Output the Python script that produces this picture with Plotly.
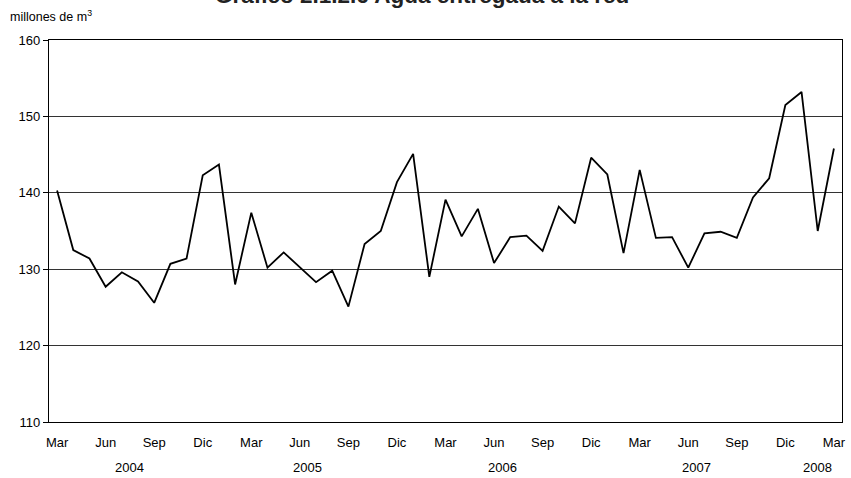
import plotly.graph_objects as go

month_names = ["Mar", "Abr", "May", "Jun", "Jul", "Ago", "Sep", "Oct", "Nov", "Dic", "Ene", "Feb"]
years = [2004] * 10 + [2005] * 12 + [2006] * 12 + [2007] * 12 + [2008] * 3
months = [month_names[i % 12] for i in range(49)]
values = [
    140.3, 132.5, 131.4, 127.7, 129.6, 128.4, 125.6, 130.7, 131.4, 142.3,
    143.7, 128.0, 137.4, 130.2, 132.2, 130.2, 128.3, 129.8, 125.1, 133.3,
    135.0, 141.4, 145.1, 129.0, 139.1, 134.3, 137.9, 130.8, 134.2, 134.4,
    132.4, 138.2, 136.0, 144.6, 142.4, 132.1, 143.0, 134.1, 134.2, 130.2,
    134.7, 134.9, 134.1, 139.4, 141.9, 151.5, 153.2, 135.0, 145.8,
]
tick_every = 3
y_ticks = [110, 120, 130, 140, 150, 160]
title_text = "Gráfico 2.1.2.6 Agua entregada a la red"
unit_text = "millones de m<sup>3</sup>"

idx = list(range(len(values)))
font_family = "Liberation Sans, Arial, sans-serif"

fig = go.Figure()
fig.add_trace(go.Scatter(
    x=idx, y=values, mode="lines",
    line=dict(color="black", width=1.8),
    hoverinfo="skip", showlegend=False,
))

annotations = []
for yr in sorted(set(years)):
    pos = [i for i, y in zip(idx, years) if y == yr]
    center = (pos[0] + pos[-1]) / 2
    annotations.append(dict(
        x=center, y=0, xref="x", yref="paper", yshift=-45,
        text=str(yr), showarrow=False, yanchor="middle",
        font=dict(family=font_family, size=13, color="black"),
    ))

annotations.append(dict(
    x=0, y=1, xref="paper", yref="paper", xshift=-41, yshift=24,
    text=unit_text, showarrow=False, xanchor="left", yanchor="middle",
    font=dict(family=font_family, size=12.5, color="black"),
))
annotations.append(dict(
    x=0.47, xref="paper", y=1, yref="paper", yshift=30,
    text="<b>" + title_text + "</b>", showarrow=False, xanchor="center", yanchor="bottom",
    font=dict(family=font_family, size=22.5, color="#222222"),
))

fig.update_layout(
    width=851, height=478,
    margin=dict(l=49, r=5, t=40, b=56),
    paper_bgcolor="white", plot_bgcolor="white",
    annotations=annotations,
    font=dict(family=font_family, size=13, color="black"),
)
fig.update_xaxes(
    range=[-0.5, len(values) - 0.5],
    tickmode="array",
    tickvals=idx[::tick_every],
    ticktext=months[::tick_every],
    showgrid=False, zeroline=False,
    showline=True, linecolor="black", linewidth=1.2, mirror=True,
    ticks="outside", ticklen=8, tickcolor="rgba(0,0,0,0)",
    tickfont=dict(family=font_family, size=13, color="black"),
)
fig.update_yaxes(
    range=[110, 160],
    tickmode="array", tickvals=y_ticks,
    showgrid=True, gridcolor="#333333", gridwidth=1,
    zeroline=False,
    showline=True, linecolor="black", linewidth=1.2, mirror=True,
    ticks="outside", ticklen=5, tickcolor="black",
    tickfont=dict(family=font_family, size=13, color="black"),
)

fig.write_html(
    "out.html",
    config={"displayModeBar": False},
    post_script="document.body.style.margin='0px';document.body.style.overflow='hidden';",
)
